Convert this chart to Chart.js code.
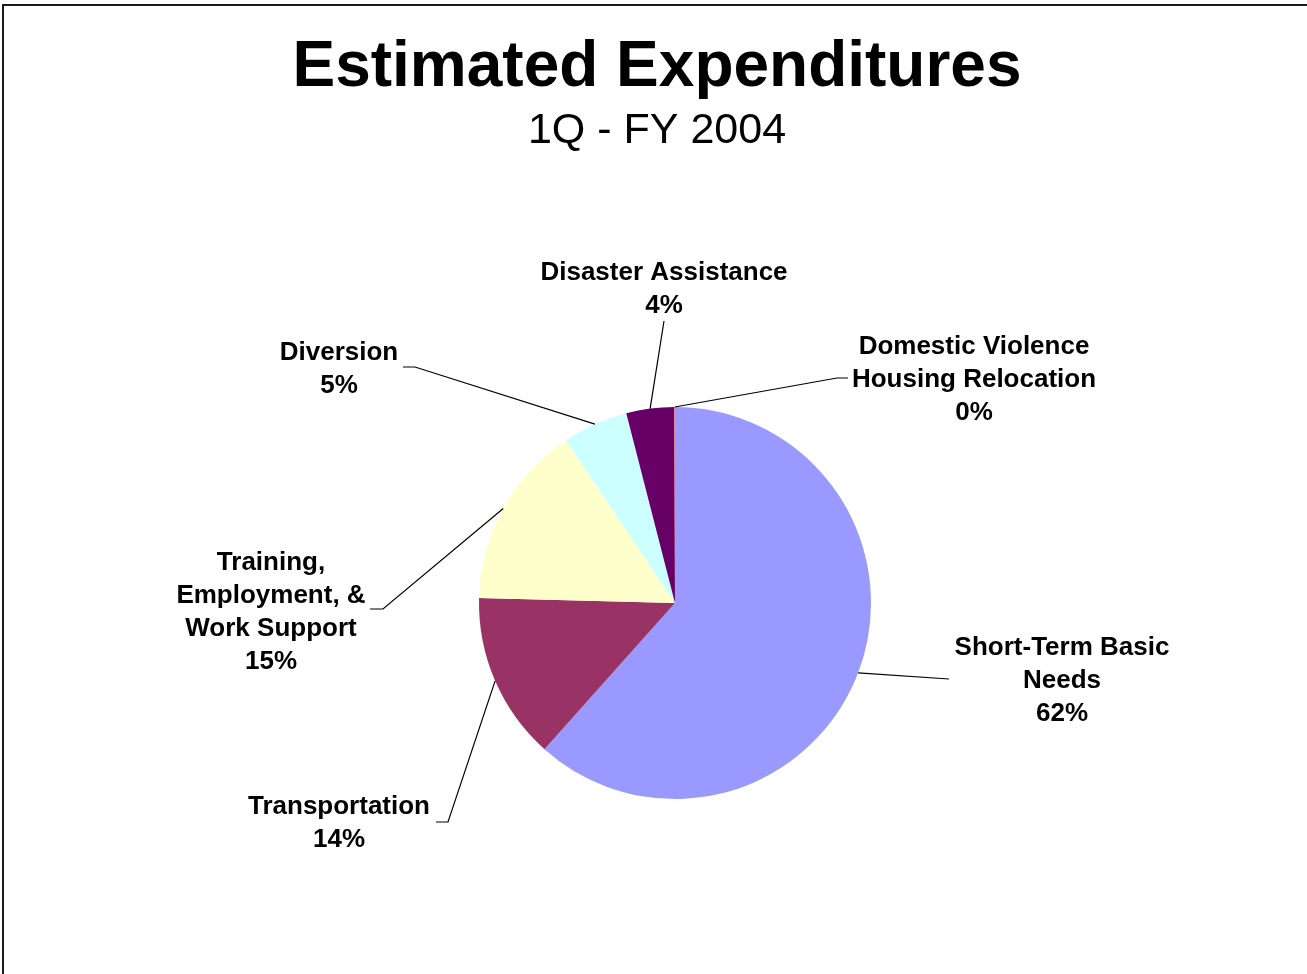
<!DOCTYPE html>
<html>
<head>
<meta charset="utf-8">
<script src="https://cdn.jsdelivr.net/npm/chart.js@4.4.1/dist/chart.umd.min.js"></script>
<style>
  html, body { margin: 0; padding: 0; background: #fff; }
  canvas { display: block; }
</style>
</head>
<body>
<canvas id="myChart" width="1307" height="974"></canvas>
<script>
var ctx = document.getElementById("myChart").getContext("2d");

// data (percent of expenditures)
var categories = [
  ["Short-Term Basic", "Needs"],
  ["Transportation"],
  ["Training,", "Employment, &", "Work Support"],
  ["Diversion"],
  ["Disaster Assistance"],
  ["Domestic Violence", "Housing Relocation"]
];
var values = [61.6, 13.8, 15.2, 5.4, 3.95, 0.05];
var colors = ["#9999FF", "#993366", "#FFFFCC", "#CCFFFF", "#660066", "#FF8080"];

var titleText = "Estimated Expenditures";
var subtitleText = "1Q - FY 2004";

// where each label sits, relative to the pie centre
// text = centre of first line, elbow = where leader bends, end = where it stops
var labelLayout = [
  { text: [387, 45],   elbow: [274, 76],   end: [274, 76] },
  { text: [-336, 204], elbow: [-227, 219], end: [-239, 219] },
  { text: [-404, -40], elbow: [-292, 6],   end: [-305, 6] },
  { text: [-336, -250], elbow: [-260, -236], end: [-272, -236] },
  { text: [-11, -330], elbow: [-11, -282], end: [-11, -282] },
  { text: [299, -256], elbow: [162, -225], end: [173, -225] }
];

var pieLabels = {
  id: "pieLabels",
  beforeDraw: function(chart) {
    var c = chart.ctx;
    c.save();
    c.fillStyle = "#ffffff";
    c.fillRect(0, 0, chart.width, chart.height);
    // frame
    c.fillStyle = "#1a1a1a";
    c.fillRect(2, 4, chart.width - 2, 2);
    c.fillRect(2, 4, 2, chart.height - 4);
    c.restore();
  },
  afterDatasetsDraw: function(chart) {
    var c = chart.ctx;
    var meta = chart.getDatasetMeta(0);
    var total = values.reduce(function(a, b) { return a + b; }, 0);
    c.save();
    c.fillStyle = "#000";
    c.textAlign = "center";
    c.textBaseline = "middle";
    c.font = "bold 64px 'Liberation Sans', Arial, sans-serif";
    c.fillText(titleText, 657, 68);
    c.font = "43px 'Liberation Sans', Arial, sans-serif";
    c.fillText(subtitleText, 657, 131);

    meta.data.forEach(function(arc, i) {
      var p = arc.getProps(["x", "y", "startAngle", "endAngle", "outerRadius"], true);
      var mid = (p.startAngle + p.endAngle) / 2;
      var ax = p.x + Math.cos(mid) * p.outerRadius;
      var ay = p.y + Math.sin(mid) * p.outerRadius;
      var lay = labelLayout[i];
      c.strokeStyle = "#000";
      c.lineWidth = 1.2;
      c.beginPath();
      c.moveTo(ax, ay);
      c.lineTo(p.x + lay.elbow[0], p.y + lay.elbow[1]);
      c.lineTo(p.x + lay.end[0], p.y + lay.end[1]);
      c.stroke();

      var lines = categories[i].concat([Math.round(values[i] / total * 100) + "%"]);
      c.font = "bold 26px 'Liberation Sans', Arial, sans-serif";
      lines.forEach(function(t, k) {
        c.fillText(t, p.x + lay.text[0], p.y + lay.text[1] + k * 33);
      });
    });
    c.restore();
  }
};

var chart = new Chart(ctx, {
  type: "pie",
  data: {
    labels: categories,
    datasets: [{
      data: values,
      backgroundColor: colors,
      borderWidth: 0
    }]
  },
  options: {
    responsive: false,
    animation: false,
    devicePixelRatio: 1,
    events: [],
    layout: { padding: { top: 407, bottom: 175, left: 479, right: 436 } },
    plugins: {
      legend: { display: false },
      tooltip: { enabled: false },
      title: { display: false }
    }
  },
  plugins: [pieLabels]
});
</script>
</body>
</html>
